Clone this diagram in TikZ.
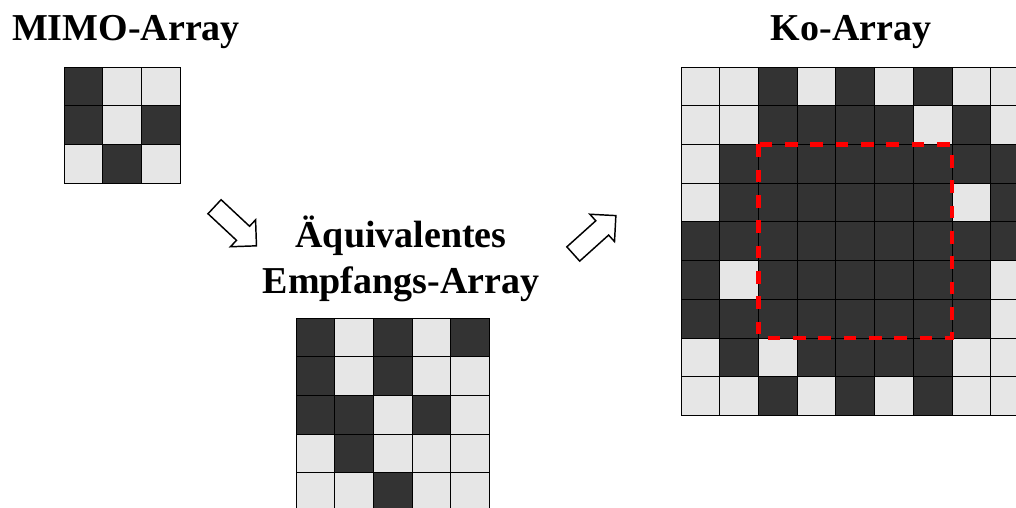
\documentclass[tikz,border=0pt]{standalone}
\usepackage{fontspec}
\setmainfont{Liberation Serif}
\usetikzlibrary{shapes.arrows, positioning}

\definecolor{cellDark}{HTML}{333333}
\definecolor{cellLight}{HTML}{E6E6E6}

\begin{document}
\begin{tikzpicture}[x=0.75pt, y=-0.75pt,
  title/.style={font=\fontsize{28.5}{34.5}\selectfont\bfseries, anchor=base, inner sep=0pt},
  darkcell/.style={fill=cellDark},
  lightcell/.style={fill=cellLight},
  cellline/.style={draw=black, line width=0.6pt},
  blockarrow/.style={draw=black, line width=1.1pt, fill=white, single arrow,
    single arrow tip angle=90, single arrow head extend=6.6pt,
    minimum height=43pt, inner sep=0pt, text height=13.3pt, text depth=0pt, text width=0pt}]
\useasboundingbox (0,0) rectangle (1016,507);
\clip (0,0) rectangle (1016,507);
% Titles
\node[title] (mimoTitle) at (126,40) {MIMO-Array};
\node[title] (koTitle) at (851,40) {Ko-Array};
\node[title] (aequiTitle) at (401,247) {Äquivalentes};
\node[title] (empfTitle) at (401,293) {Empfangs-Array};
% MIMO-Array (3x3)
\fill[lightcell] (64,67) rectangle ++(116.1,116.1);
\foreach \c/\r in {0/0, 0/1, 2/1, 1/2}
  \fill[darkcell] (64+\c*38.7, 67+\r*38.7) rectangle ++(38.7,38.7);
\foreach \c in {0,1,2} {
  \foreach \r in {0,1,2} {
    \draw[cellline] (64+\c*38.7, 67+\r*38.7) rectangle ++(38.7,38.7);
  }
}
% Equivalent receive array (5x5)
\fill[lightcell] (296,318) rectangle ++(193.5,193.5);
\foreach \r/\cols in {0/{0,2,4}, 1/{0,2}, 2/{0,1,3}, 3/{1}, 4/{2}} {
  \foreach \c in \cols
    \fill[darkcell] (296+\c*38.7, 318+\r*38.7) rectangle ++(38.7,38.7);
}
\foreach \c in {0,...,4} {
  \foreach \r in {0,...,4} {
    \draw[cellline] (296+\c*38.7, 318+\r*38.7) rectangle ++(38.7,38.7);
  }
}
% Ko-Array (9x9)
\fill[lightcell] (681,67) rectangle ++(348.3,348.3);
\foreach \r/\cols in {0/{2,4,6}, 1/{2,3,4,5,7}, 2/{1,...,8}, 3/{1,...,6,8},
    4/{0,...,8}, 5/{0,2,3,4,5,6,7}, 6/{0,...,7}, 7/{1,3,4,5,6}, 8/{2,4,6}} {
  \foreach \c in \cols
    \fill[darkcell] (681+\c*38.7, 67+\r*38.7) rectangle ++(38.7,38.7);
}
\foreach \c in {0,...,8} {
  \foreach \r in {0,...,8} {
    \draw[cellline] (681+\c*38.7, 67+\r*38.7) rectangle ++(38.7,38.7);
  }
}
% Overlap region
\draw[red, line width=3.4pt, dash pattern=on 9.5pt off 9.5pt]
  (681+2*38.7, 67+2*38.7) rectangle ++(5*38.7, 5*38.7);
% Block arrows
\node[blockarrow, rotate=-43] (arrowA) at (232,223) {};
\node[blockarrow, rotate=42] (arrowB) at (591,238) {};
\end{tikzpicture}
\end{document}
